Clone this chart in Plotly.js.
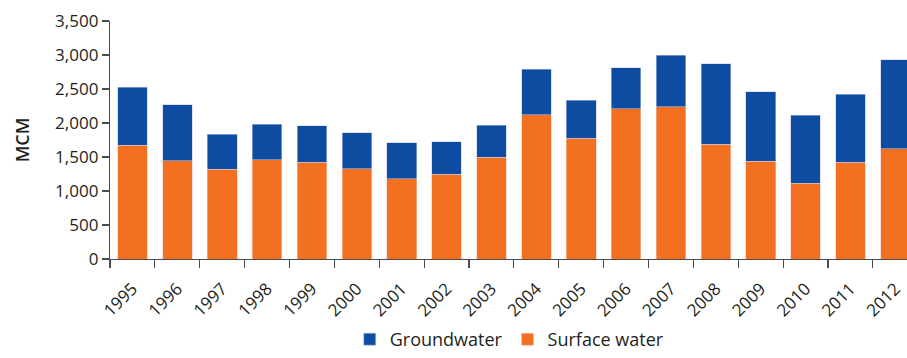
<!DOCTYPE html>
<html>
<head>
<meta charset="utf-8">
<script src="https://cdn.plot.ly/plotly-3.0.1.min.js"></script>
<style>
  html, body { margin: 0; padding: 0; background: #fff; }
  #chart { width: 907px; height: 358px; }
</style>
</head>
<body>
<div id="chart"></div>
<script>
const years = ["1995","1996","1997","1998","1999","2000","2001","2002","2003","2004","2005","2006","2007","2008","2009","2010","2011","2012"];
const surfaceWater = [1670,1447,1319,1456,1422,1329,1182,1250,1496,2123,1775,2206,2241,1687,1437,1113,1422,1618];
const groundwater  = [855,818,519,525,534,530,529,471,470,667,559,609,755,1181,1025,1000,1000,1314];
const yTicks = [0,500,1000,1500,2000,2500,3000,3500];
const yTickText = ["0","500","1,000","1,500","2,000","2,500","3,000","3,500"];

const textColor = "#231f20";
const fontFam = "'Open Sans', 'Noto Sans', sans-serif";

const traces = [
  {
    type: "bar", name: "Surface water", x: years, y: surfaceWater,
    marker: { color: "#f37021", line: { width: 0.6, color: "rgba(240,200,190,0.9)" } },
    showlegend: true
  },
  {
    type: "bar", name: "Groundwater", x: years, y: groundwater,
    marker: { color: "#0d4ca0", line: { width: 0.6, color: "rgba(190,200,235,0.9)" } },
    showlegend: true
  }
];

const layout = {
  width: 907, height: 358,
  margin: { l: 110, r: 0, t: 21, b: 99, pad: 0 },
  barmode: "stack",
  bargap: 0.34,
  paper_bgcolor: "#fff", plot_bgcolor: "#fff",
  font: { family: fontFam, color: textColor, size: 17 },
  xaxis: {
    type: "category",
    automargin: false,
    range: [-0.5, 17.26],
    showline: true, linecolor: "#4d4d4f", linewidth: 1.2,
    ticks: "outside", ticklen: 8, tickcolor: "#4d4d4f", tickwidth: 1.2,
    tickson: "boundaries",
    tickangle: -45,
    ticklabelstandoff: 12,
    tickfont: { size: 17, family: fontFam, color: textColor },
    showgrid: false, zeroline: false, fixedrange: true
  },
  yaxis: {
    automargin: false,
    range: [0, 3500],
    tickvals: yTicks, ticktext: yTickText,
    showline: true, linecolor: "#4d4d4f", linewidth: 1.2,
    ticks: "outside", ticklen: 7, tickcolor: "#4d4d4f", tickwidth: 1.2,
    tickfont: { size: 17, family: fontFam, color: textColor },
    showgrid: false, zeroline: false, fixedrange: true,
    title: { text: "MCM", font: { size: 18, family: fontFam, color: textColor, weight: 600 }, standoff: 20 }
  },
  legend: {
    orientation: "h",
    xref: "container", yref: "container",
    x: 0.562, xanchor: "center",
    y: 0.0, yanchor: "bottom",
    traceorder: "reversed",
    itemwidth: 30,
    font: { size: 18, family: fontFam, color: textColor },
    itemclick: false, itemdoubleclick: false
  },
  showlegend: true
};

Plotly.newPlot("chart", traces, layout, { displayModeBar: false, staticPlot: true });
</script>
</body>
</html>
